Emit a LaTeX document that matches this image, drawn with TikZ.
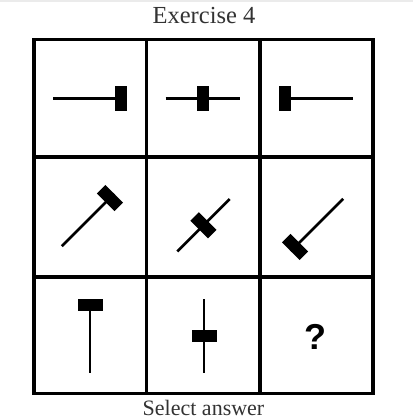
\documentclass[tikz,border=0pt]{standalone}
\usepackage{fontspec}
\setmainfont{Liberation Serif}
\newfontfamily\qfont{Liberation Sans}
\definecolor{captiongray}{HTML}{333333}
\definecolor{bandgray}{HTML}{EBEBEB}
\tikzset{
    gridline/.style={line width=3.5pt, black},
    handle/.style={line width=2.7pt, black},
    caption/.style={anchor=base, text=captiongray, inner sep=0pt}
}
\begin{document}
\begin{tikzpicture}[x=1pt, y=-1pt]
        \useasboundingbox (0,0) rectangle (413,420);
        \fill[white] (0,0) rectangle (413,420);
        \fill[bandgray] (0,0) rectangle (413,2.5);
        % TITLE
        \node[caption, font=\fontsize{24.5}{29}\selectfont] (title) at (204,23.3) {Exercise 4};
        % GRID (3x3)
        \draw[gridline] (34,39.3) rectangle (373,393.7);
        \foreach \x in {146.7,260} {
            \draw[gridline] (\x,39.3) -- (\x,393.7);
        }
        \foreach \y in {157,277} {
            \draw[gridline] (34,\y) -- (373,\y);
        }
        % FIGURES: centre x / centre y / angle / block position
        \foreach \cx/\cy/\ang/\pos in {90/98.5/0/31, 202.5/98.5/0/0, 316/98.5/0/-31,
                                       88/220/45/31, 203.5/225.3/45/0, 317/225/45/-31,
                                       90/335.5/90/31, 204/335.5/90/0} {
            \begin{scope}[shift={(\cx,\cy)}, rotate=\ang]
                \draw[handle] (-37,0) -- (37,0);
                \fill[black] (\pos-6,-12.5) rectangle ++(12,25);
            \end{scope}
        }
        % UNKNOWN
        \node[caption, text=black, font=\qfont\bfseries\fontsize{36}{40}\selectfont] (unknown) at (315.5,349.3) {?};
        % ANSWER
        \node[caption, font=\fontsize{22}{26}\selectfont] (answer) at (203.5,415.5) {Select answer};
\end{tikzpicture}
\end{document}
